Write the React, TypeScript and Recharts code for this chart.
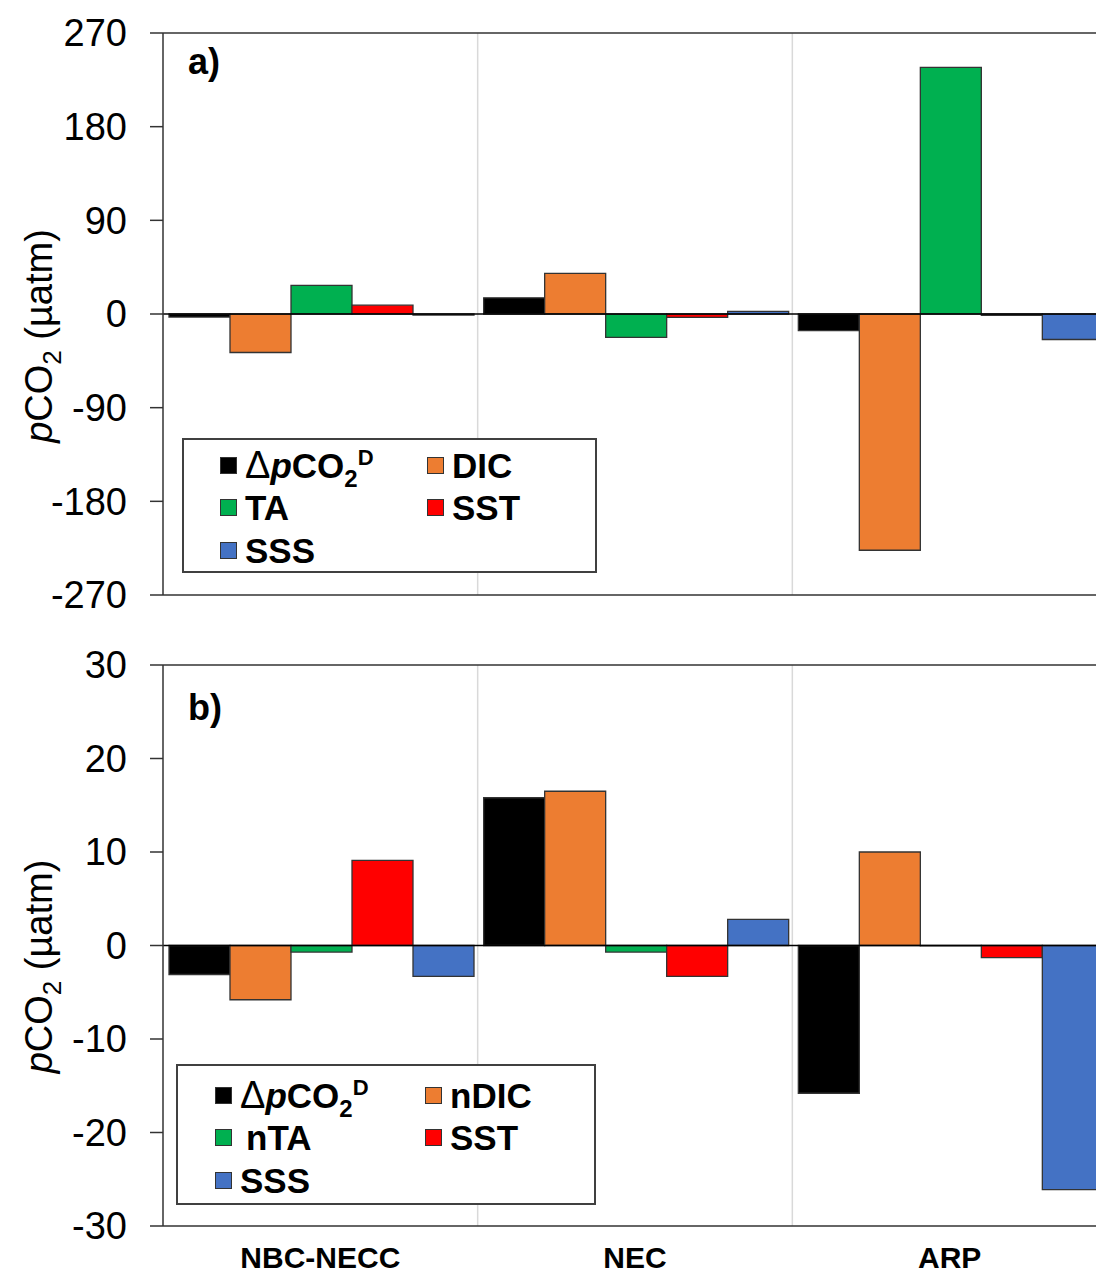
import React from "react";
import { BarChart, Bar, XAxis, YAxis, ReferenceLine, Legend } from "recharts";

// pCO2 decomposition per region, panel a) raw drivers, panel b) salinity-normalised drivers
const CATEGORIES = ["NBC-NECC", "NEC", "ARP"];

const A_DPCO2 = [-3, 15.5, -16];
const A_DIC = [-37, 39, -227];
const A_TA = [27.5, -22.5, 237];
const A_SST = [8.5, -3.2, -1.2];
const A_SSS = [-1, 2.5, -24.5];
const A_TICKS = [-270, -180, -90, 0, 90, 180, 270];

const B_DPCO2 = [-3.1, 15.8, -15.8];
const B_NDIC = [-5.8, 16.5, 10];
const B_NTA = [-0.7, -0.7, -0.05];
const B_SST = [9.1, -3.3, -1.3];
const B_SSS = [-3.3, 2.8, -26.1];
const B_TICKS = [-30, -20, -10, 0, 10, 20, 30];

const NAMES_A = ["dpCO2", "DIC", "TA", "SST", "SSS"];
const NAMES_B = ["dpCO2", "nDIC", "nTA", "SST", "SSS"];
const COLORS = ["#000000", "#ED7D31", "#00B050", "#FF0000", "#4472C4"];
const KEYS = ["s0", "s1", "s2", "s3", "s4"];

const FONT = '"Liberation Sans", Arial, sans-serif';
const EDGE = "#333333";

const dataA = CATEGORIES.map((cat, i) => ({
  cat,
  s0: A_DPCO2[i],
  s1: A_DIC[i],
  s2: A_TA[i],
  s3: A_SST[i],
  s4: A_SSS[i],
}));

const dataB = CATEGORIES.map((cat, i) => ({
  cat,
  s0: B_DPCO2[i],
  s1: B_NDIC[i],
  s2: B_NTA[i],
  s3: B_SST[i],
  s4: B_SSS[i],
}));

function SeriesName({ name }: { name: string }) {
  if (name === "dpCO2") {
    return (
      <span>
        <span style={{ fontSize: 38, fontWeight: 400 }}>Δ</span>
        <i>p</i>CO
        <span style={{ fontSize: 24, position: "relative", top: 9 }}>2</span>
        <span style={{ fontSize: 22, position: "relative", top: -13 }}>D</span>
      </span>
    );
  }
  // the nTA entry sits a little further right in the original
  return <span style={{ marginLeft: name === "nTA" ? 6 : 0 }}>{name}</span>;
}

type Box = { x: number; y: number; w: number; h: number; rows: number[]; cols: number[] };

function LegendBox(props: any) {
  const { payload = [], box } = props as { payload: any[]; box: Box };
  return (
    <div
      style={{
        position: "relative",
        width: box.w,
        height: box.h,
        boxSizing: "border-box",
        border: "2px solid #404040",
        background: "#fff",
        fontFamily: FONT,
        fontWeight: 700,
        fontSize: 35,
        color: "#000",
      }}
    >
      {payload.map((p: any, i: number) => (
        <div
          key={p.value}
          style={{
            position: "absolute",
            left: box.cols[i % 2],
            top: box.rows[Math.floor(i / 2)] - 22,
            height: 44,
            display: "flex",
            alignItems: "center",
            lineHeight: 1,
            whiteSpace: "nowrap",
          }}
        >
          <span
            style={{
              width: 17,
              height: 17,
              boxSizing: "border-box",
              background: p.color,
              border: `1px solid ${EDGE}`,
              marginRight: 8,
              display: "inline-block",
            }}
          />
          <SeriesName name={p.value} />
        </div>
      ))}
    </div>
  );
}

function YLabel(props: any) {
  const { viewBox, shift } = props;
  const cx = viewBox.x - 11;
  const cy = viewBox.y + viewBox.height / 2 + shift;
  return (
    <text
      x={cx}
      y={cy}
      transform={`rotate(-90 ${cx} ${cy})`}
      textAnchor="middle"
      fontSize={38}
      fontFamily={FONT}
      fill="#000"
    >
      <tspan fontStyle="italic">p</tspan>
      <tspan>CO</tspan>
      <tspan dy={9} fontSize={26}>2</tspan>
      <tspan dy={-9}> (µatm)</tspan>
    </text>
  );
}

function Panel({
  data,
  names,
  domain,
  ticks,
  showX,
  height,
  box,
  labelShift,
}: {
  data: any[];
  names: string[];
  domain: [number, number];
  ticks: number[];
  showX: boolean;
  height: number;
  box: Box;
  labelShift: number;
}) {
  return (
    <BarChart
      width={1120}
      height={height}
      data={data}
      margin={{ top: 33, right: 13, bottom: showX ? 0 : 35, left: 63 }}
      barGap={0}
      barCategoryGap={6}
    >
      <XAxis
        dataKey="cat"
        hide={!showX}
        height={48}
        axisLine={false}
        tickLine={false}
        tickMargin={15}
        interval={0}
        tick={{ fontFamily: FONT, fontSize: 30, fontWeight: 700, fill: "#000" }}
      />
      <YAxis
        width={100}
        domain={domain}
        ticks={ticks}
        interval={0}
        allowDataOverflow
        axisLine={{ stroke: EDGE, strokeWidth: 1.5 }}
        tickLine={{ stroke: EDGE, strokeWidth: 1.5 }}
        tickSize={13}
        tickMargin={23}
        tick={{ fontFamily: FONT, fontSize: 38, fill: "#000" }}
        label={<YLabel shift={labelShift} />}
      />
      <ReferenceLine x="NEC" position="start" stroke="#D9D9D9" strokeWidth={1.5} />
      <ReferenceLine x="ARP" position="start" stroke="#D9D9D9" strokeWidth={1.5} />
      <ReferenceLine y={domain[1]} stroke={EDGE} strokeWidth={1.5} />
      <ReferenceLine y={domain[0]} stroke={EDGE} strokeWidth={1.5} />
      {KEYS.map((k, i) => (
        <Bar
          key={k}
          dataKey={k}
          name={names[i]}
          fill={COLORS[i]}
          stroke={EDGE}
          strokeWidth={1.3}
          isAnimationActive={false}
        />
      ))}
      <ReferenceLine y={0} stroke="#000" strokeWidth={1.5} />
      <Legend
        layout="horizontal"
        verticalAlign="middle"
        align="center"
        itemSorter="dataKey"
        wrapperStyle={{ left: box.x, top: box.y, width: box.w, height: box.h }}
        content={<LegendBox box={box} />}
      />
    </BarChart>
  );
}

const letterStyle: React.CSSProperties = {
  position: "absolute",
  fontFamily: FONT,
  fontWeight: 700,
  fontSize: 36,
  lineHeight: 1,
  color: "#000",
};

export default function App() {
  return (
    <div
      style={{
        position: "absolute",
        left: 0,
        top: 0,
        width: 1096,
        height: 1274,
        overflow: "hidden",
        background: "#fff",
      }}
    >
      <div style={{ position: "absolute", left: 0, top: 0 }}>
        <Panel
          data={dataA}
          names={NAMES_A}
          domain={[-270, 270]}
          ticks={A_TICKS}
          showX={false}
          height={630}
          labelShift={22}
          box={{ x: 182, y: 438, w: 415, h: 135, rows: [25, 67, 110], cols: [36, 243] }}
        />
      </div>
      <div style={{ position: "absolute", left: 0, top: 632 }}>
        <Panel
          data={dataB}
          names={NAMES_B}
          domain={[-30, 30]}
          ticks={B_TICKS}
          showX
          height={642}
          labelShift={21}
          box={{ x: 176, y: 432, w: 420, h: 141, rows: [29, 71, 114], cols: [37, 247] }}
        />
      </div>
      <div style={{ ...letterStyle, left: 188, top: 44 }}>a)</div>
      <div style={{ ...letterStyle, left: 188, top: 690 }}>b)</div>
    </div>
  );
}
